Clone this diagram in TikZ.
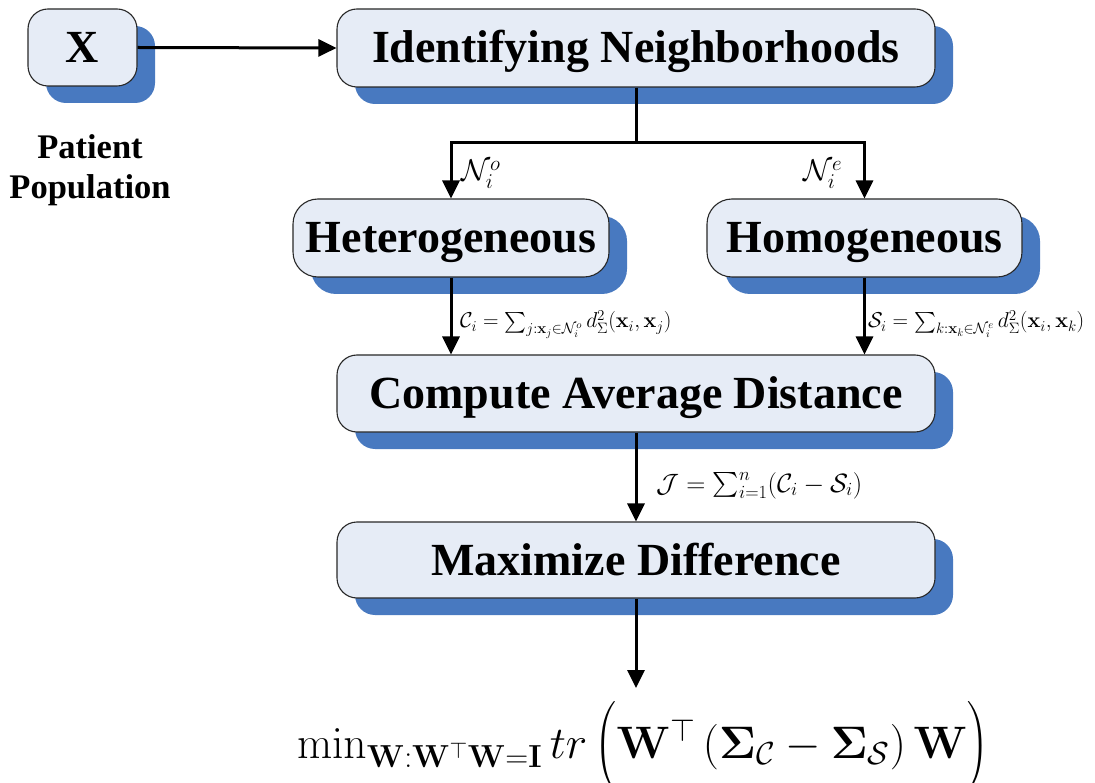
\RequirePackage{fix-cm}
\documentclass[tikz,border=0pt]{standalone}
\usepackage{exscale}
\usepackage[no-math]{fontspec}
\newfontfamily\boxfont{Liberation Serif}
\usetikzlibrary{arrows.meta,shadows}

\definecolor{boxfill}{RGB}{230,236,246}
\definecolor{shadowblue}{RGB}{72,121,192}
\definecolor{boxline}{RGB}{40,40,40}

\tikzset{
  stage/.style={draw=boxline, line width=1.1pt, fill=boxfill,
    rounded corners=20pt, minimum height=77pt, inner sep=0pt,
    text height=30pt, text depth=0pt,
    font=\boxfont\bfseries\fontsize{46}{50}\selectfont,
    drop shadow={shadow xshift=18pt, shadow yshift=-17pt,
      fill=shadowblue, opacity=1, draw=none}},
  flow/.style={line width=3pt, -{Triangle[length=18pt,width=17pt]}},
  link/.style={line width=3pt},
  lbl/.style={inner sep=0pt, anchor=base west},
}

\begin{document}
\begin{tikzpicture}[x=1pt, y=-1pt]
  \useasboundingbox (0,0) rectangle (1095,783);

  % processing stages
  \node[stage, minimum width=109pt] (x) at (82.5,47.5) {X};
  \node[stage, minimum width=598pt, minimum height=78pt] (ident) at (636,48) {Identifying Neighborhoods};
  \node[stage, minimum width=316pt, minimum height=78pt, rounded corners=25pt] (het) at (451,238) {Heterogeneous};
  \node[stage, minimum width=315pt, minimum height=78pt, rounded corners=25pt] (hom) at (864.5,238) {Homogeneous};
  \node[stage, minimum width=598pt] (comp) at (636,393.5) {Compute Average Distance};
  \node[stage, minimum width=598pt, minimum height=76pt] (max) at (636,560) {Maximize Difference};

  % caption under the input
  \node[font=\boxfont\bfseries\fontsize{34.5}{40}\selectfont, align=center, inner sep=0pt]
    (pop) at (90,170) {Patient\\Population};

  % objective
  \node[inner sep=0pt, anchor=base, font=\fontsize{45.5}{50}\selectfont] (goalf) at (643,758)
    {$\min_{\mathbf{W}:\mathbf{W}^\top\mathbf{W}=\mathbf{I}} tr\,\Big(\mathbf{W}^\top\left(\mathbf{\Sigma}_{\mathcal{C}}-\mathbf{\Sigma}_{\mathcal{S}}\right)\mathbf{W}\Big)$};
  \coordinate (goal) at (636,688);

  % connectors
  \coordinate (split) at (ident.south |- 0,143);
  \draw[flow] (x.east) -- (ident.west);
  \draw[link] (ident.south) -- (split);
  \draw[flow] (split) -| (het.north);
  \draw[flow] (split) -| (hom.north);
  \draw[flow] (het.south) -- (het.south |- comp.north);
  \draw[flow] (hom.south) -- (hom.south |- comp.north);
  \draw[flow] (comp.south) -- (max.north);
  \draw[flow] (max.south) -- (goal);

  % connector labels
  \node[lbl, font=\fontsize{30}{36}\selectfont] (no) at (461,181) {$\mathcal{N}_i^o$};
  \node[lbl, font=\fontsize{30}{36}\selectfont] (ne) at (803,181) {$\mathcal{N}_i^e$};
  \node[lbl, font=\fontsize{21.5}{25}\selectfont] (ci) at (460,328)
    {$\mathcal{C}_i=\sum_{j:\mathbf{x}_j\in\mathcal{N}_i^o} d^2_\Sigma(\mathbf{x}_i,\mathbf{x}_j)$};
  \node[lbl, font=\fontsize{21.5}{25}\selectfont] (si) at (868,328)
    {$\mathcal{S}_i=\sum_{k:\mathbf{x}_k\in\mathcal{N}_i^e} d^2_\Sigma(\mathbf{x}_i,\mathbf{x}_k)$};
  \node[lbl, font=\fontsize{26.5}{30}\selectfont] (jf) at (656,492)
    {$\mathcal{J}=\sum_{i=1}^{n}(\mathcal{C}_i-\mathcal{S}_i)$};
\end{tikzpicture}
\end{document}
